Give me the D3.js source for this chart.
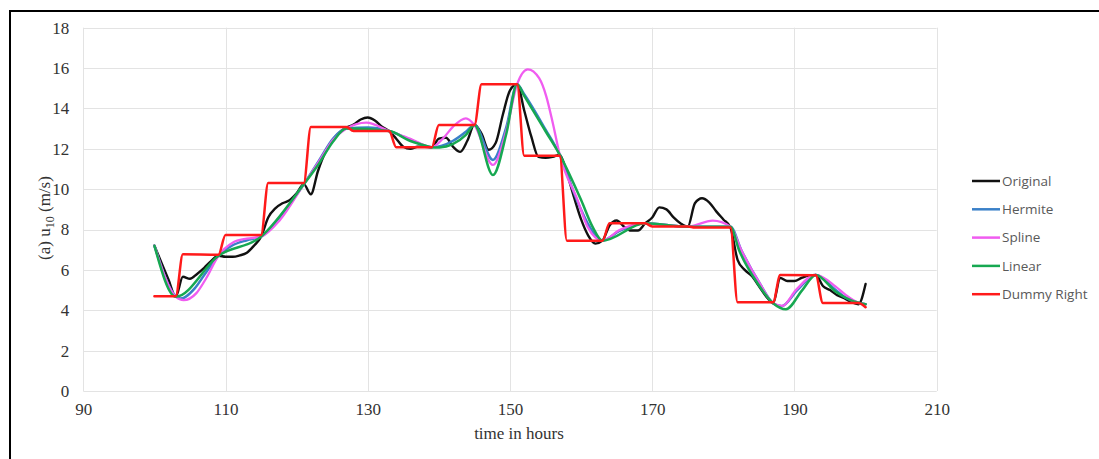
<!DOCTYPE html>
<html>
<head>
<meta charset="utf-8">
<script src="https://cdn.jsdelivr.net/npm/d3@7"></script>
<style>
  body { margin: 0; background: #fff; }
  svg { display: block; }
</style>
</head>
<body>
<svg id="chart" width="1099" height="459"></svg>
<script>
// ---- data -------------------------------------------------------------
const originalHours = d3.range(100, 201);
const originalValues = [
  7.2, 6.35, 5.5, 4.67, 5.66, 5.56, 5.8, 6.1, 6.45, 6.7,
  6.65, 6.65, 6.72, 6.85, 7.2, 7.65, 8.6, 9.05, 9.3, 9.45,
  9.8, 10.25, 9.75, 10.9, 11.8, 12.4, 12.8, 13.05, 13.2, 13.45,
  13.55, 13.4, 13.1, 12.88, 12.5, 12.1, 12.0, 12.1, 12.1, 12.08,
  12.5, 12.55, 12.1, 11.85, 12.4, 13.2, 12.75, 11.95, 12.3, 13.7,
  14.9, 15.2, 13.9, 12.6, 11.6, 11.55, 11.6, 11.7, 10.8, 9.6,
  8.5, 7.7, 7.3, 7.45, 8.2, 8.45, 8.15, 7.95, 7.95, 8.3,
  8.6, 9.1, 9.0, 8.6, 8.3, 8.14, 9.3, 9.55, 9.35, 8.9,
  8.5, 8.1, 6.5, 6.0, 5.7, 5.2, 4.7, 4.35, 5.6, 5.45,
  5.45, 5.6, 5.72, 5.75, 5.2, 5.0, 4.75, 4.6, 4.4, 4.3,
  5.3
];

const hermiteHours = [100, 103, 103.7, 105.7, 107.3, 109, 111, 113, 115, 117.6, 121, 123.2, 125.1, 127, 130, 133, 136, 139, 142, 143.8, 145, 147.6, 149.5, 151, 152, 155, 157, 159.4, 161.2, 163, 165.4, 169, 175, 181, 182.5, 185.1, 187, 188.2, 190.4, 193, 195.8, 197.2, 199, 200];
const hermiteValues = [7.2, 4.7, 4.58, 5.1, 5.9, 6.7, 7.22, 7.47, 7.65, 8.6, 10.24, 11.45, 12.5, 13.0, 13.05, 12.88, 12.45, 12.08, 12.4, 12.85, 13.18, 11.45, 13.1, 15.2, 14.7, 12.95, 11.7, 9.46, 8.14, 7.45, 7.93, 8.31, 8.14, 8.14, 7.0, 5.34, 4.35, 4.2, 5.0, 5.75, 5.0, 4.62, 4.37, 4.3];

const splineHours = [100, 103, 104.1, 105.9, 107.3, 109, 111, 113, 115, 117.6, 121, 123.2, 125.1, 127, 129.8, 133, 136, 139, 140.6, 142, 143.8, 145, 147.6, 149.5, 151, 152.5, 154.1, 155.1, 156, 157, 159.5, 160.9, 163, 165.4, 169, 175, 178.5, 181, 182.5, 185.1, 187, 188.3, 190.2, 193, 195.8, 197.2, 199, 200];
const splineValues = [7.2, 4.67, 4.5, 4.85, 5.6, 6.7, 7.35, 7.55, 7.65, 8.45, 10.24, 11.4, 12.44, 13.0, 13.3, 12.88, 12.5, 12.08, 12.52, 13.1, 13.51, 13.18, 11.2, 12.93, 15.2, 15.94, 15.5, 14.6, 13.3, 11.69, 9.46, 8.14, 7.45, 7.98, 8.31, 8.14, 8.44, 8.14, 7.0, 5.34, 4.35, 4.22, 5.0, 5.75, 5.17, 4.76, 4.37, 4.3];

const linearHours = [100, 103, 109, 115, 121, 123.2, 125.1, 127, 133, 135.9, 137.3, 139, 140.1, 142, 143.8, 145, 147.6, 149.5, 151, 152, 155, 157, 160, 161.6, 163, 169, 175, 181, 182.2, 184.8, 187, 188.8, 191.1, 193, 195.8, 197.2, 199, 200];
const linearValues = [7.2, 4.67, 6.7, 7.65, 10.24, 11.3, 12.35, 13.0, 12.88, 12.4, 12.24, 12.08, 12.07, 12.24, 12.69, 13.18, 10.7, 12.77, 15.2, 14.62, 12.87, 11.7, 9.46, 8.14, 7.45, 8.31, 8.14, 8.14, 6.99, 5.34, 4.35, 4.05, 5.0, 5.75, 4.92, 4.62, 4.37, 4.3];

const dummyRightHours = [100, 103, 104, 109, 110, 115, 116, 121, 122, 127, 128, 133, 134, 139, 140, 145, 146, 151, 152, 157, 158, 163, 164, 169, 170, 175, 176, 181, 182, 187, 188, 193, 194, 199, 200];
const dummyRightValues = [4.7, 4.7, 6.77, 6.75, 7.73, 7.73, 10.3, 10.3, 13.08, 13.08, 12.88, 12.88, 12.08, 12.08, 13.18, 13.18, 15.2, 15.2, 11.65, 11.65, 7.45, 7.45, 8.31, 8.31, 8.15, 8.15, 8.1, 8.1, 4.4, 4.4, 5.75, 5.73, 4.36, 4.36, 4.15];

const xTicks = [90, 110, 130, 150, 170, 190, 210];
const yTicks = [0, 2, 4, 6, 8, 10, 12, 14, 16, 18];

const series = [
  { name: "Original",    hours: originalHours,   values: originalValues,   color: "#111111", width: 2.4 },
  { name: "Hermite",     hours: hermiteHours,    values: hermiteValues,    color: "#3a80c8", width: 2.5 },
  { name: "Spline",      hours: splineHours,     values: splineValues,     color: "#f05cf0", width: 2.3 },
  { name: "Linear",      hours: linearHours,     values: linearValues,     color: "#16a851", width: 2.5 },
  { name: "Dummy Right", hours: dummyRightHours, values: dummyRightValues, color: "#ff1a1a", width: 2.5 }
];

// ---- layout -----------------------------------------------------------
const svg = d3.select("#chart");
const plot = { left: 83.3, right: 936.7, top: 27.7, bottom: 391 };

const x = d3.scaleLinear().domain([90, 210]).range([plot.left, plot.right]);
const y = d3.scaleLinear().domain([0, 18]).range([plot.bottom, plot.top]);

// outer frame (left and top edges visible)
svg.append("rect")
  .attr("x", 10).attr("y", 11)
  .attr("width", 1200).attr("height", 1000)
  .attr("fill", "none").attr("stroke", "#000").attr("stroke-width", 2);

// gridlines
const grid = svg.append("g").attr("stroke", "#e3e3e3").attr("stroke-width", 1);
grid.selectAll("line.h").data(yTicks).join("line")
  .attr("x1", plot.left).attr("x2", plot.right)
  .attr("y1", d => Math.round(y(d)) + 0.5).attr("y2", d => Math.round(y(d)) + 0.5);
grid.selectAll("line.v").data(xTicks).join("line")
  .attr("y1", plot.top).attr("y2", plot.bottom)
  .attr("x1", d => Math.round(x(d)) + 0.5).attr("x2", d => Math.round(x(d)) + 0.5);

// axes
const tickFont = "'Liberation Serif', 'Times New Roman', serif";
const yAxis = svg.append("g")
  .attr("transform", `translate(${plot.left},0)`)
  .call(d3.axisLeft(y).tickValues(yTicks).tickSize(0).tickPadding(14));
const xAxis = svg.append("g")
  .attr("transform", `translate(0,${plot.bottom})`)
  .call(d3.axisBottom(x).tickValues(xTicks).tickSize(0).tickPadding(12));
[yAxis, xAxis].forEach(a => {
  a.select(".domain").remove();
  a.selectAll("text")
    .attr("font-family", tickFont)
    .attr("font-size", 17)
    .attr("fill", "#333");
});

// axis titles
svg.append("text")
  .attr("x", 519).attr("y", 439)
  .attr("text-anchor", "middle")
  .attr("font-family", tickFont).attr("font-size", 17).attr("fill", "#333")
  .text("time in hours");

const yTitle = svg.append("text")
  .attr("transform", "translate(50,218) rotate(-90)")
  .attr("text-anchor", "middle")
  .attr("font-family", tickFont).attr("font-size", 17).attr("fill", "#333");
yTitle.append("tspan").text("(a) u");
yTitle.append("tspan").attr("font-size", 12).attr("dy", 4).text("10");
yTitle.append("tspan").attr("dy", -4).text(" (m/s)");

// series lines
const line = d3.line()
  .x(d => x(d[0]))
  .y(d => y(d[1]))
  .curve(d3.curveMonotoneX);

const lines = svg.append("g").attr("fill", "none")
  .attr("stroke-linejoin", "round").attr("stroke-linecap", "round");
series.forEach(s => {
  lines.append("path")
    .datum(d3.zip(s.hours, s.values))
    .attr("stroke", s.color)
    .attr("stroke-width", s.width)
    .attr("d", line);
});

// legend
const legend = svg.append("g").attr("transform", "translate(972,181)");
series.forEach((s, i) => {
  const g = legend.append("g").attr("transform", `translate(0,${i * 28.3})`);
  g.append("line").attr("x1", 0).attr("x2", 28).attr("y1", 0).attr("y2", 0)
    .attr("stroke", s.color).attr("stroke-width", 2.5);
  g.append("text").attr("x", 30).attr("y", 0).attr("dy", "0.35em")
    .attr("font-family", "'Open Sans', 'DejaVu Sans', sans-serif")
    .attr("font-size", 13.5).attr("fill", "#595959")
    .text(s.name);
});
</script>
</body>
</html>
